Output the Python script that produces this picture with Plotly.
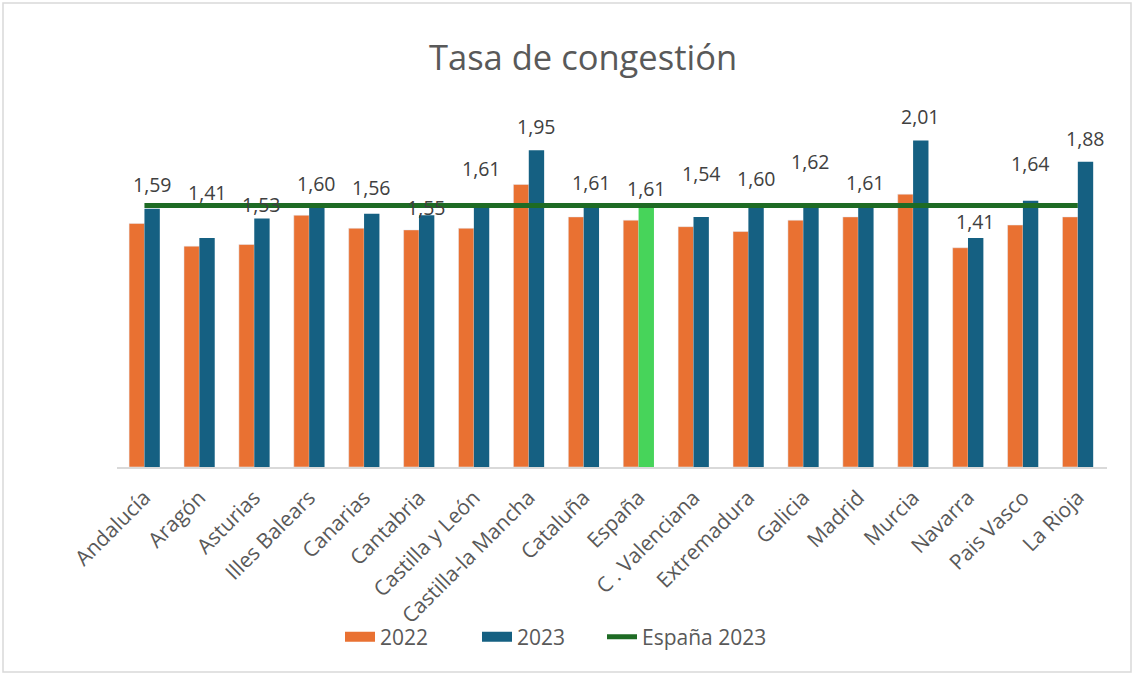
import plotly.graph_objects as go

# data
regiones = ["Andalucía", "Aragón", "Asturias", "Illes Balears", "Canarias", "Cantabria",
            "Castilla y León", "Castilla-la Mancha", "Cataluña", "España", "C . Valenciana",
            "Extremadura", "Galicia", "Madrid", "Murcia", "Navarra", "Pais Vasco", "La Rioja"]
tasa_2022 = [1.50, 1.36, 1.37, 1.55, 1.47, 1.46, 1.47, 1.74, 1.54, 1.52, 1.48,
             1.45, 1.52, 1.54, 1.68, 1.35, 1.49, 1.54]
tasa_2023 = [1.59, 1.41, 1.53, 1.60, 1.56, 1.55, 1.61, 1.95, 1.61, 1.61, 1.54,
             1.60, 1.62, 1.61, 2.01, 1.41, 1.64, 1.88]
espana_2023 = 1.61

# label lift above each 2023 bar (px), as placed in the original
label_lift = [24, 46, 14, 24, 26, 8, 37, 24, 23, 17, 43, 29, 42, 23, 24, 17, 37, 23]

NARANJA = "#E97132"
AZUL = "#156082"
VERDE_BARRA = "#47D45A"
VERDE_LINEA = "#1E6B24"
GRIS = "#595959"
FUENTE = "Open Sans, Arial, sans-serif"
BARGAP = 0.44

colores_2023 = [VERDE_BARRA if r == "España" else AZUL for r in regiones]

fig = go.Figure()
fig.add_trace(go.Bar(x=regiones, y=tasa_2022, name="2022", marker_color=NARANJA,
                     showlegend=False))
fig.add_trace(go.Bar(x=regiones, y=tasa_2023, name="2023", marker_color=colores_2023,
                     marker_line=dict(width=0), showlegend=False))
fig.add_trace(go.Scatter(x=regiones, y=[espana_2023] * len(regiones), name="España 2023",
                         mode="lines", line=dict(color=VERDE_LINEA, width=5), showlegend=False))

# legend entries (wide swatches like the original)
for nombre, color, ancho, ley in [("2022", NARANJA, 14, "legend"), ("2023", AZUL, 14, "legend"),
                                  ("España 2023", VERDE_LINEA, 5, "legend2")]:
    fig.add_trace(go.Scatter(x=[None], y=[None], mode="lines", name=nombre, legend=ley,
                             line=dict(color=color, width=ancho)))

# data labels for 2023
for i, (v, lift) in enumerate(zip(tasa_2023, label_lift)):
    fig.add_annotation(x=i + (1 - BARGAP) / 4, y=v, text=f"{v:.2f}".replace(".", ","),
                       showarrow=False, yshift=lift, xanchor="center", yanchor="middle",
                       font=dict(size=19.5, color="#404040", family=FUENTE))

leyenda = dict(orientation="h", y=-0.419, yanchor="middle", xanchor="left",
               font=dict(size=21, color=GRIS), bgcolor="rgba(0,0,0,0)")

fig.update_layout(
    width=1134, height=674,
    margin=dict(l=117, r=27, t=61, b=207),
    paper_bgcolor="white", plot_bgcolor="white",
    font=dict(family=FUENTE, color=GRIS),
    title=dict(text="Tasa de congestión", x=583 / 1134, xanchor="center", y=1 - 58 / 674,
               yanchor="middle", font=dict(size=34.5, color=GRIS)),
    barmode="group", bargap=BARGAP, bargroupgap=0,
    showlegend=True,
    legend=dict(leyenda, x=(340 - 117) / 990, entrywidth=92, entrywidthmode="pixels"),
    legend2=dict(leyenda, x=(602 - 117) / 990),
)
fig.update_xaxes(tickangle=-45, tickfont=dict(size=21, color=GRIS), showline=True,
                 linecolor="#D9D9D9", linewidth=2, ticks="outside", ticklen=8,
                 tickcolor="rgba(0,0,0,0)", showgrid=False)
fig.update_yaxes(range=[0, 2.5], visible=False, showgrid=False)

# light frame around the chart area
fig.add_shape(type="rect", xref="paper", yref="paper",
              x0=(3 - 117) / 990, x1=(1131 - 117) / 990,
              y0=(467 - 672) / 406, y1=(467 - 3) / 406,
              line=dict(color="#D9D9D9", width=1.5), layer="below")

fig.write_html("out.html", config={"displayModeBar": False},
               post_script="document.body.style.margin='0';")
